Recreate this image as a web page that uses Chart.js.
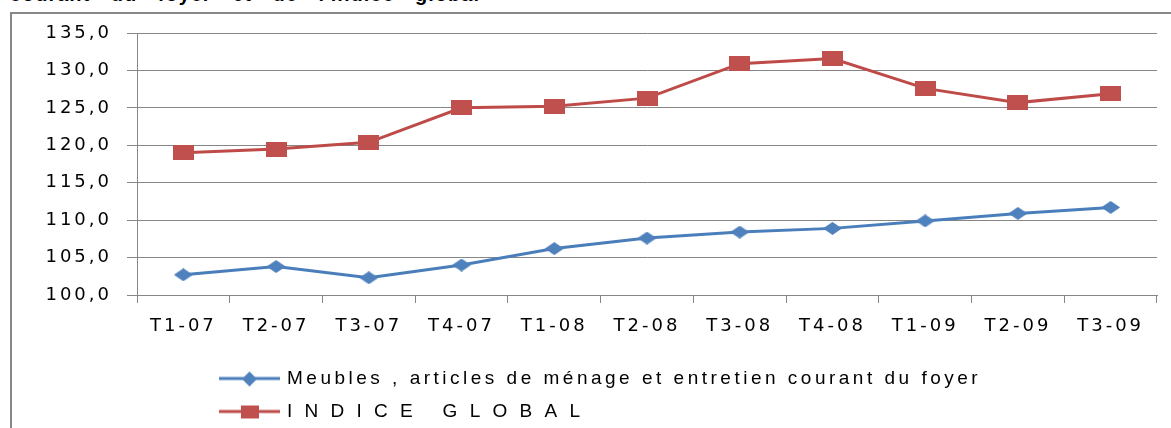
<!DOCTYPE html>
<html><head><meta charset="utf-8">
<script src="https://cdn.jsdelivr.net/npm/chart.js@4/dist/chart.umd.min.js"></script>
<style>
html,body{margin:0;padding:0;background:#fff;width:1171px;height:428px;overflow:hidden;}
#frame{position:absolute;left:10px;top:12px;width:1200px;height:450px;border-left:2px solid #888;border-top:2px solid #888;box-sizing:border-box;}
#title{position:absolute;right:691px;top:-16px;font:bold 20px "Liberation Sans",Arial,sans-serif;line-height:20px;letter-spacing:1px;word-spacing:14px;white-space:nowrap;color:#000;}
#c{position:absolute;left:0;top:0;}
</style></head>
<body>
<div id="title">Evolution de l'indice des prix des meubles, articles de ménage et entretien courant du foyer et de l'indice global</div>
<div id="frame"></div>
<canvas id="c" width="1171" height="428"></canvas>
<script>
const categories = ['T1-07','T2-07','T3-07','T4-07','T1-08','T2-08','T3-08','T4-08','T1-09','T2-09','T3-09'];
const meubles = [102.7,103.8,102.3,104.0,106.2,107.6,108.4,108.9,109.9,110.9,111.7];
const indiceGlobal = [119.0,119.5,120.4,125.0,125.2,126.3,130.9,131.6,127.6,125.7,126.9];
const seriesNames = ['Meubles , articles de ménage et entretien courant du foyer', 'I N D I C E   G L O B A L'];
const yMin = 100, yMax = 135, yStep = 5;

const BLUE_LINE = '#4a7ebb', BLUE = '#4f81bd';
const RED_LINE = '#be4b48', RED = '#c0504d';
const GRID = '#868686';

function rectMarker(w, h, color) {
  const c = document.createElement('canvas'); c.width = w; c.height = h;
  const x = c.getContext('2d'); x.fillStyle = color; x.fillRect(0, 0, w, h); return c;
}
function diamondMarker(w, h, color) {
  const c = document.createElement('canvas'); c.width = w; c.height = h;
  const x = c.getContext('2d'); x.fillStyle = color;
  x.beginPath(); x.moveTo(w/2, 0); x.lineTo(w, h/2); x.lineTo(w/2, h); x.lineTo(0, h/2); x.closePath(); x.fill();
  return c;
}
function swatch(marker, color) {
  const W = 61, H = 18;
  const c = document.createElement('canvas'); c.width = W; c.height = H;
  const x = c.getContext('2d'); x.strokeStyle = color; x.lineWidth = 3;
  x.beginPath(); x.moveTo(0, H/2); x.lineTo(W, H/2); x.stroke();
  x.drawImage(marker, Math.round(W/2 - marker.width/2), Math.round(H/2 - marker.height/2));
  return c;
}
const blueMarker = diamondMarker(19, 13, BLUE);
const redMarker = rectMarker(21, 15, RED);
const swatches = [swatch(diamondMarker(15, 15, BLUE), BLUE_LINE), swatch(rectMarker(18, 13, RED), RED_LINE)];

const AXIS_SPACING = '3px', LEGEND_SPACING = '3.5px';

// Legend: its own letter spacing, and one item per row
const LegendCls = Chart.registry.getPlugin('legend')._element;
if (LegendCls) {
  const of = LegendCls.prototype.fit;
  LegendCls.prototype.fit = function () { const c = this.ctx; const ls = c.letterSpacing; c.letterSpacing = LEGEND_SPACING; of.apply(this, arguments); c.letterSpacing = ls; };
  const od = LegendCls.prototype.draw;
  LegendCls.prototype.draw = function () { const c = this.ctx; const ls = c.letterSpacing; c.letterSpacing = LEGEND_SPACING; od.apply(this, arguments); c.letterSpacing = ls; };
  const ofr = LegendCls.prototype._fitRows;
  LegendCls.prototype._fitRows = function () { const mw = this.maxWidth; this.maxWidth = Math.min(mw, 900); const r = ofr.apply(this, arguments); this.maxWidth = mw; return r; };
}

const spacingPlugin = {
  id: 'spacing',
  beforeLayout(chart) { chart.ctx.letterSpacing = AXIS_SPACING; },
  afterLayout(chart) {
    const lg = chart.legend;
    if (lg) { lg.left = 207.5; lg.right = 1171; lg.top += 3; lg.bottom += 3; }
  },
  beforeDraw(chart) { chart.ctx.letterSpacing = AXIS_SPACING; },
  afterDraw(chart) { chart.ctx.letterSpacing = '0px'; }
};

new Chart(document.getElementById('c'), {
  type: 'line',
  data: {
    labels: categories,
    datasets: [
      { label: seriesNames[0], data: meubles, borderColor: BLUE_LINE, backgroundColor: BLUE, borderWidth: 3,
        pointStyle: blueMarker, pointRadius: 6, tension: 0, fill: false },
      { label: seriesNames[1], data: indiceGlobal, borderColor: RED_LINE, backgroundColor: RED, borderWidth: 3,
        pointStyle: redMarker, pointRadius: 6, tension: 0, fill: false }
    ]
  },
  options: {
    responsive: false,
    animation: false,
    devicePixelRatio: 1,
    layout: { padding: { top: 33, right: 14, left: 0, bottom: 0 } },
    plugins: {
      tooltip: { enabled: false },
      legend: {
        position: 'bottom',
        align: 'start',
        labels: {
          usePointStyle: true,
          pointStyleWidth: 56,
          padding: 14,
          color: '#000',
          font: { family: '"Liberation Sans", Arial, sans-serif', size: 19 },
          generateLabels: (chart) => chart.data.datasets.map((ds, i) => ({
            text: ds.label, pointStyle: swatches[i], fillStyle: ds.borderColor, strokeStyle: ds.borderColor,
            lineWidth: 0, hidden: false, datasetIndex: i, fontColor: '#000'
          }))
        }
      }
    },
    scales: {
      x: {
        type: 'category',
        offset: true,
        grid: { display: true, drawOnChartArea: false, drawTicks: true, tickLength: 8, offset: true, color: GRID },
        border: { display: true, color: GRID, width: 1 },
        ticks: { color: '#000', padding: 13, maxRotation: 0, autoSkip: false,
          font: { family: '"DejaVu Sans", Verdana, sans-serif', size: 18 } },
        afterFit: (s) => { s.height = 57; }
      },
      y: {
        min: yMin, max: yMax,
        grid: { color: GRID, tickLength: 10, drawTicks: true },
        border: { display: true, color: GRID, width: 1 },
        ticks: { stepSize: yStep, color: '#000', padding: 15,
          font: { family: '"DejaVu Sans", Verdana, sans-serif', size: 18 },
          callback: (v) => Number(v).toFixed(1).replace('.', ',') },
        afterFit: (s) => { s.width = 137; }
      }
    }
  },
  plugins: [spacingPlugin]
});
</script>
</body></html>
